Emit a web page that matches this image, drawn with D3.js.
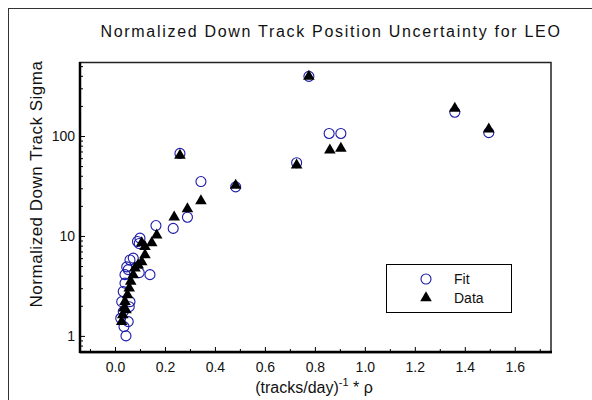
<!DOCTYPE html>
<html>
<head>
<meta charset="utf-8">
<script src="https://cdn.jsdelivr.net/npm/d3@7"></script>
<style>
  body { margin: 0; background: #fff; }
  svg { display: block; }
  text { font-family: "Liberation Sans", Arial, Helvetica, sans-serif; fill: #111; }
</style>
</head>
<body>
<div id="chart"></div>
<script>
// Fit (open circles)
var fitX = [0.044, 0.036, 0.023, 0.053, 0.033, 0.057, 0.06, 0.027, 0.033, 0.04, 0.04, 0.097, 0.14,
  0.053, 0.047, 0.06, 0.073, 0.097, 0.1, 0.09, 0.164, 0.233, 0.29, 0.344, 0.26, 0.483, 0.727,
  0.776, 0.857, 0.904, 1.36, 1.496];
var fitSigma = [1.0, 1.24, 1.5, 1.39, 1.75, 1.96, 2.2, 2.2, 2.78, 3.37, 4.1, 4.3, 4.1,
  4.6, 4.9, 5.75, 6.0, 8.4, 9.5, 8.8, 12.7, 11.9, 15.4, 35, 67, 31, 54,
  395, 106, 106, 173, 108];

// Data (filled triangles)
var dataX = [0.027, 0.031, 0.036, 0.044, 0.04, 0.05, 0.057, 0.063, 0.073, 0.08, 0.093, 0.107,
  0.12, 0.107, 0.12, 0.147, 0.167, 0.237, 0.29, 0.344, 0.26, 0.483, 0.727, 0.776, 0.86, 0.904,
  1.36, 1.496];
var dataSigma = [1.39, 1.62, 1.89, 1.82, 2.2, 2.57, 3.0, 3.5, 4.07, 4.75, 5.1, 5.5,
  6.45, 8.5, 7.8, 8.5, 10.2, 15.4, 18.6, 22.4, 64, 32, 51, 395, 72, 75,
  189, 117];

var xMajor = [0.0, 0.2, 0.4, 0.6, 0.8, 1.0, 1.2, 1.4, 1.6];
var xMinor = [-0.1, 0.1, 0.3, 0.5, 0.7, 0.9, 1.1, 1.3, 1.5, 1.7];
var yMajor = [1, 10, 100];
var yMinor = [0.7, 0.8, 0.9, 2, 3, 4, 5, 6, 7, 8, 9, 20, 30, 40, 50, 60, 70, 80, 90, 200, 300, 400, 500];

var width = 592, height = 400;
var plotLeft = 80, plotRight = 551, plotTop = 62, plotBottom = 352;

var svg = d3.select('#chart').append('svg')
  .attr('width', width)
  .attr('height', height);

// outer frame (cropped on right / bottom)
svg.append('rect')
  .attr('x', 8.5).attr('y', 8.5)
  .attr('width', 640).attr('height', 440)
  .attr('fill', 'none')
  .attr('stroke', '#333')
  .attr('stroke-width', 1);

var x = d3.scaleLinear().domain([-0.14, 1.745]).range([plotLeft, plotRight]);
var y = d3.scaleLog().domain([0.69, 550]).range([plotBottom, plotTop]);

// plot box
svg.append('rect')
  .attr('x', plotLeft).attr('y', plotTop + 0.5)
  .attr('width', plotRight - plotLeft).attr('height', plotBottom - plotTop)
  .attr('fill', 'none')
  .attr('stroke', '#222')
  .attr('stroke-width', 1.5);

// x axis
svg.append('g')
  .attr('transform', 'translate(0,' + plotBottom + ')')
  .call(d3.axisBottom(x).tickValues(xMajor).tickFormat(d3.format('.1f'))
    .tickSizeInner(-5).tickSizeOuter(0).tickPadding(10));
svg.append('g')
  .attr('transform', 'translate(0,' + plotBottom + ')')
  .call(d3.axisBottom(x).tickValues(xMinor).tickFormat('')
    .tickSizeInner(-3).tickSizeOuter(0));

// y axis
svg.append('g')
  .attr('transform', 'translate(' + plotLeft + ',0)')
  .call(d3.axisLeft(y).tickValues(yMajor).tickFormat(d3.format('d'))
    .tickSizeInner(-5).tickSizeOuter(0).tickPadding(5));
svg.append('g')
  .attr('transform', 'translate(' + plotLeft + ',0)')
  .call(d3.axisLeft(y).tickValues(yMinor).tickFormat('')
    .tickSizeInner(-3).tickSizeOuter(0));

svg.selectAll('.domain').remove();
svg.selectAll('.tick line').attr('stroke', '#000').attr('stroke-width', 1);
svg.selectAll('.tick text')
  .style('font-family', '"Liberation Sans", Arial, sans-serif')
  .style('font-size', '14px')
  .attr('fill', '#111');

// thick left / bottom axis lines
svg.append('line')
  .attr('x1', plotLeft).attr('x2', plotRight + 1)
  .attr('y1', plotBottom).attr('y2', plotBottom)
  .attr('stroke', '#000').attr('stroke-width', 2.5);
svg.append('line')
  .attr('x1', plotLeft).attr('x2', plotLeft)
  .attr('y1', plotTop).attr('y2', plotBottom + 1)
  .attr('stroke', '#000').attr('stroke-width', 2.5);

// marks
var tri = d3.symbol().type(d3.symbolTriangle).size(58);

svg.append('g').selectAll('circle')
  .data(fitX)
  .join('circle')
  .attr('cx', function (d) { return x(d); })
  .attr('cy', function (d, i) { return y(fitSigma[i]); })
  .attr('r', 5)
  .attr('fill', 'none')
  .attr('stroke', '#1c1ca8')
  .attr('stroke-width', 1.1);

svg.append('g').selectAll('path')
  .data(dataX)
  .join('path')
  .attr('d', tri)
  .attr('transform', function (d, i) {
    return 'translate(' + x(d) + ',' + y(dataSigma[i]) + ')';
  })
  .attr('fill', '#000');

// legend
var lg = svg.append('g').attr('transform', 'translate(386,264)');
lg.append('rect')
  .attr('x', 0.5).attr('y', 0.5)
  .attr('width', 125).attr('height', 48)
  .attr('fill', '#fff')
  .attr('stroke', '#000');
lg.append('circle')
  .attr('cx', 40).attr('cy', 15).attr('r', 5)
  .attr('fill', 'none').attr('stroke', '#1c1ca8').attr('stroke-width', 1.1);
lg.append('path')
  .attr('d', tri)
  .attr('transform', 'translate(40,34)')
  .attr('fill', '#000');
lg.append('text').attr('x', 68).attr('y', 20).style('font-size', '14px').text('Fit');
lg.append('text').attr('x', 68).attr('y', 39).style('font-size', '14px').text('Data');

// title
svg.append('text')
  .attr('x', 331).attr('y', 37)
  .attr('text-anchor', 'middle')
  .style('font-size', '16px')
  .style('letter-spacing', '1.7px')
  .text('Normalized Down Track Position Uncertainty for LEO');

// y label
svg.append('text')
  .attr('transform', 'translate(42,184) rotate(-90)')
  .attr('text-anchor', 'middle')
  .style('font-size', '17px')
  .style('letter-spacing', '0.5px')
  .text('Normalized Down Track Sigma');

// x label
var xl = svg.append('text')
  .attr('x', 314).attr('y', 393)
  .attr('text-anchor', 'middle')
  .style('font-size', '16px');
xl.append('tspan').text('(tracks/day)');
xl.append('tspan').attr('dy', -7).style('font-size', '11px').text('-1');
xl.append('tspan').attr('dy', 7).text(' * \u03c1');
</script>
</body>
</html>
